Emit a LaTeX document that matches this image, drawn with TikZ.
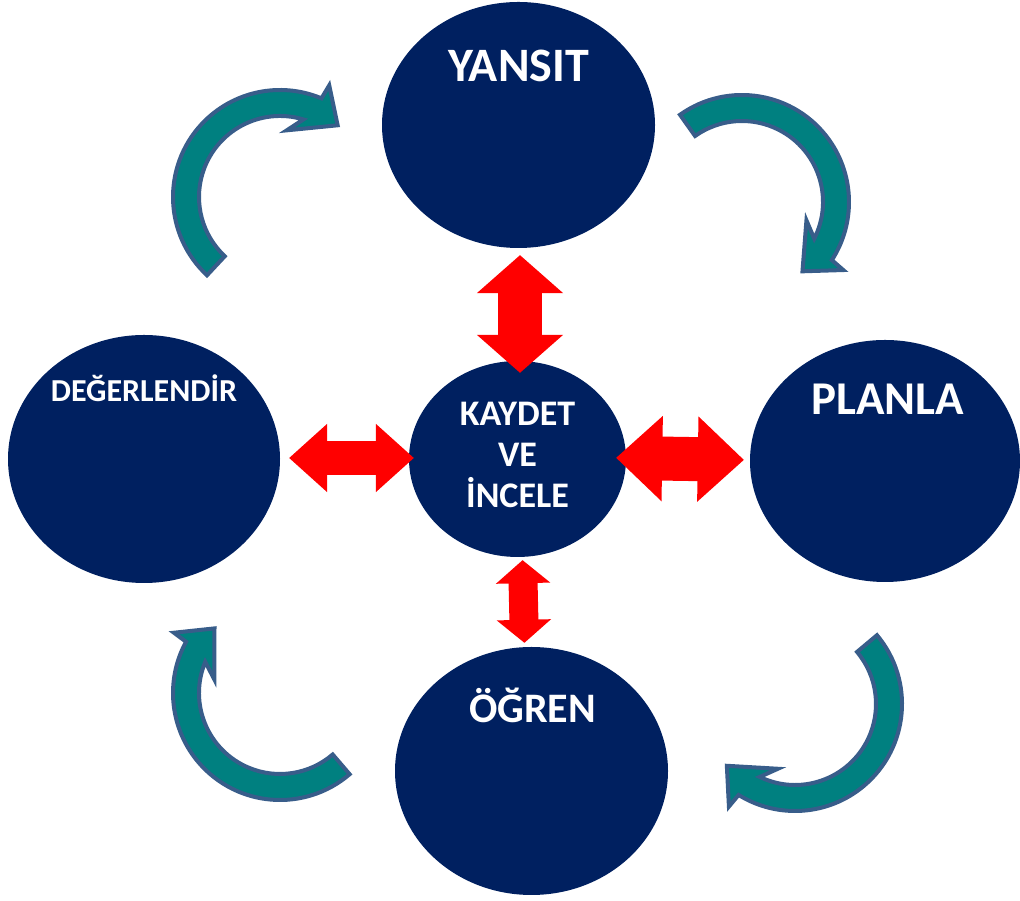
\documentclass[tikz,border=0pt]{standalone}
\usepackage{fontspec}
\setmainfont{Carlito}
\usetikzlibrary{arrows.meta, shapes.geometric, calc}
\definecolor{navy}{HTML}{002060}
\definecolor{tealfill}{HTML}{008080}
\definecolor{tealedge}{HTML}{385D8A}
\definecolor{redarr}{HTML}{FF0000}

\begin{document}
\begin{tikzpicture}[
  x=1pt, y=1pt,
  bubble/.style 2 args={
    ellipse, fill=navy, inner sep=0pt,
    minimum width=#1pt, minimum height=#2pt
  },
  lbl/.style 2 args={
    text=white, inner sep=0pt, anchor=base, align=center,
    font=\fontsize{#1}{#2}\selectfont\bfseries
  },
  dblarr/.style n args={3}{
    draw=redarr, line width=#1pt,
    arrows={Triangle[length=#2pt, width=#3pt, line width=2pt]-Triangle[length=#2pt, width=#3pt, line width=2pt]}
  },
  cyc/.style={fill=tealfill, draw=tealedge, line width=4pt, line join=miter},
  pics/turn/.style 2 args={code={
    \draw[cyc] (#1:107) arc[start angle=#1, end angle=#2+17, radius=107]
      -- (#2+16:122) -- (#2+1:92) -- (#2+34:67) -- (#2+23:81)
      arc[start angle=#2+23, end angle=#1, radius=81] -- cycle;
  }},
]

% Frame
\useasboundingbox (0,0) rectangle (1020,901);

% ---- Ellipses ----
\node[bubble={273}{246}] (yansit) at (518.5,776) {};
\node[bubble={270}{242}] (planla) at (885,440) {};
\node[bubble={273}{248}] (ogren) at (531.5,130) {};
\node[bubble={272}{248}] (degerlendir) at (144,442) {};
\node[bubble={217}{196}] (kaydet) at (517.5,442) {};

% ---- Labels ----
\node[lbl={48}{50}] at ([yshift=43]yansit.center) {YANSIT};
\node[lbl={47}{50}] at ([xshift=2.5, yshift=46]planla.center) {PLANLA};
\node[lbl={42}{45}] at ([xshift=1, yshift=48]ogren.center) {ÖĞREN};
\node[lbl={32}{36}] at ([yshift=57]degerlendir.center) {DEĞERLENDİR};
\node[lbl={36}{41}, anchor=center] at ([yshift=4]kaydet.center)
  {KAYDET\\VE\\İNCELE};

% ---- Red double arrows ----
\draw[dblarr={44}{38}{86}, shorten <=7, shorten >=-12]
  ([xshift=1.5]yansit.south) -- ([xshift=2.5]kaydet.north);
\draw[dblarr={34}{38}{68}, shorten <=9, shorten >=-5]
  ([yshift=1]degerlendir.east) -- ([yshift=1]kaydet.west);
\draw[dblarr={44}{46}{85}, shorten <=-10, shorten >=6]
  ([yshift=1]kaydet.east) -- ([yshift=1]planla.west);
\draw[dblarr={29}{23}{54}, shorten <=3, shorten >=4]
  ([xshift=5]kaydet.south) -- ([xshift=-7]ogren.north);

% ---- Teal cycle arrows ----
\pic at (280,704) {turn={227}{50.2}};
\pic at (742,699) {turn={125.4}{-49.9}};
\pic at (795,197) {turn={40}{-138.8}};
\pic at (280,208) {turn={310.6}{134.4}};

\end{tikzpicture}
\end{document}
